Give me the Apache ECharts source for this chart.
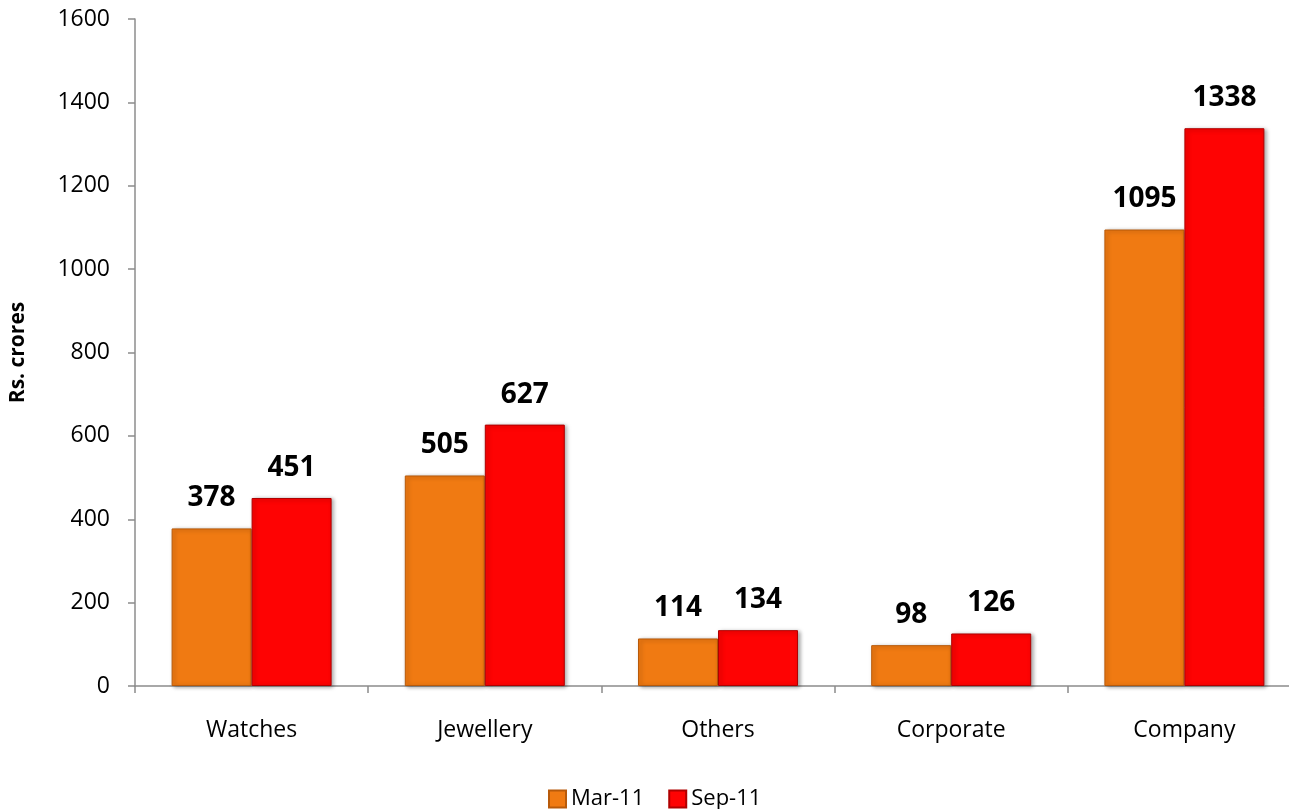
<!DOCTYPE html>
<html>
<head>
<meta charset="utf-8">
<script src="https://cdn.jsdelivr.net/npm/echarts@6/dist/echarts.min.js"></script>
<style>
  html, body { margin: 0; padding: 0; background: #fff; }
  #chart { width: 1289px; height: 809px; }
</style>
</head>
<body>
<div id="chart"></div>
<script>
const categories = ["Watches", "Jewellery", "Others", "Corporate", "Company"];
const mar11 = [378, 505, 114, 98, 1095];
const sep11 = [451, 627, 134, 126, 1338];
const seriesNames = ["Mar-11", "Sep-11"];

const chart = echarts.init(document.getElementById("chart"));

const font = "'Open Sans', 'DejaVu Sans', sans-serif";

function barStyle(color, border) {
  return {
    color: color,
    borderColor: border,
    borderWidth: 1,
    shadowColor: "rgba(0,0,0,0.35)",
    shadowBlur: 4,
    shadowOffsetX: 2,
    shadowOffsetY: 1,
  };
}

const labelStyle = {
  show: true,
  position: "top",
  distance: 16,
  fontFamily: font,
  fontWeight: "bold",
  fontSize: 28,
  color: "#000",
};

const option = {
  animation: false,
  textStyle: { fontFamily: font },
  grid: {
    left: 135,
    top: 19,
    bottom: 123,
    width: 1166,
    outerBoundsMode: "none",
  },
  legend: {
    top: 783,
    left: 543,
    itemWidth: 17,
    itemHeight: 17,
    itemGap: 24,
    icon: "rect",
    textStyle: { fontFamily: font, fontSize: 22, color: "#000" },
    data: seriesNames,
  },
  xAxis: {
    type: "category",
    data: categories,
    axisLine: { lineStyle: { color: "#8c8c8c", width: 1.5 } },
    axisTick: { show: true, length: 7, lineStyle: { color: "#8c8c8c", width: 1.5 } },
    axisLabel: {
      margin: 33,
      fontFamily: font,
      fontSize: 23,
      color: "#000",
    },
  },
  yAxis: {
    type: "value",
    min: 0,
    max: 1600,
    interval: 200,
    name: "Rs. crores",
    nameLocation: "middle",
    nameGap: 106,
    nameTextStyle: {
      fontFamily: font,
      fontWeight: "bold",
      fontSize: 21,
      color: "#000",
    },
    axisLine: { show: true, lineStyle: { color: "#8c8c8c", width: 1.5 } },
    axisTick: { show: true, length: 7, lineStyle: { color: "#8c8c8c", width: 1.5 } },
    axisLabel: {
      margin: 25,
      fontFamily: font,
      fontSize: 23,
      color: "#000",
      formatter: (v) => String(v),
    },
    splitLine: { show: false },
  },
  series: [
    {
      name: seriesNames[0],
      type: "bar",
      data: mar11,
      barWidth: 80,
      barGap: "0%",
      itemStyle: barStyle("#F07A12", "#B85A0A"),
      label: labelStyle,
    },
    {
      name: seriesNames[1],
      type: "bar",
      data: sep11,
      barWidth: 80,
      barGap: "0%",
      itemStyle: barStyle("#FE0303", "#B00000"),
      label: labelStyle,
    },
  ],
};

chart.setOption(option);
</script>
</body>
</html>
